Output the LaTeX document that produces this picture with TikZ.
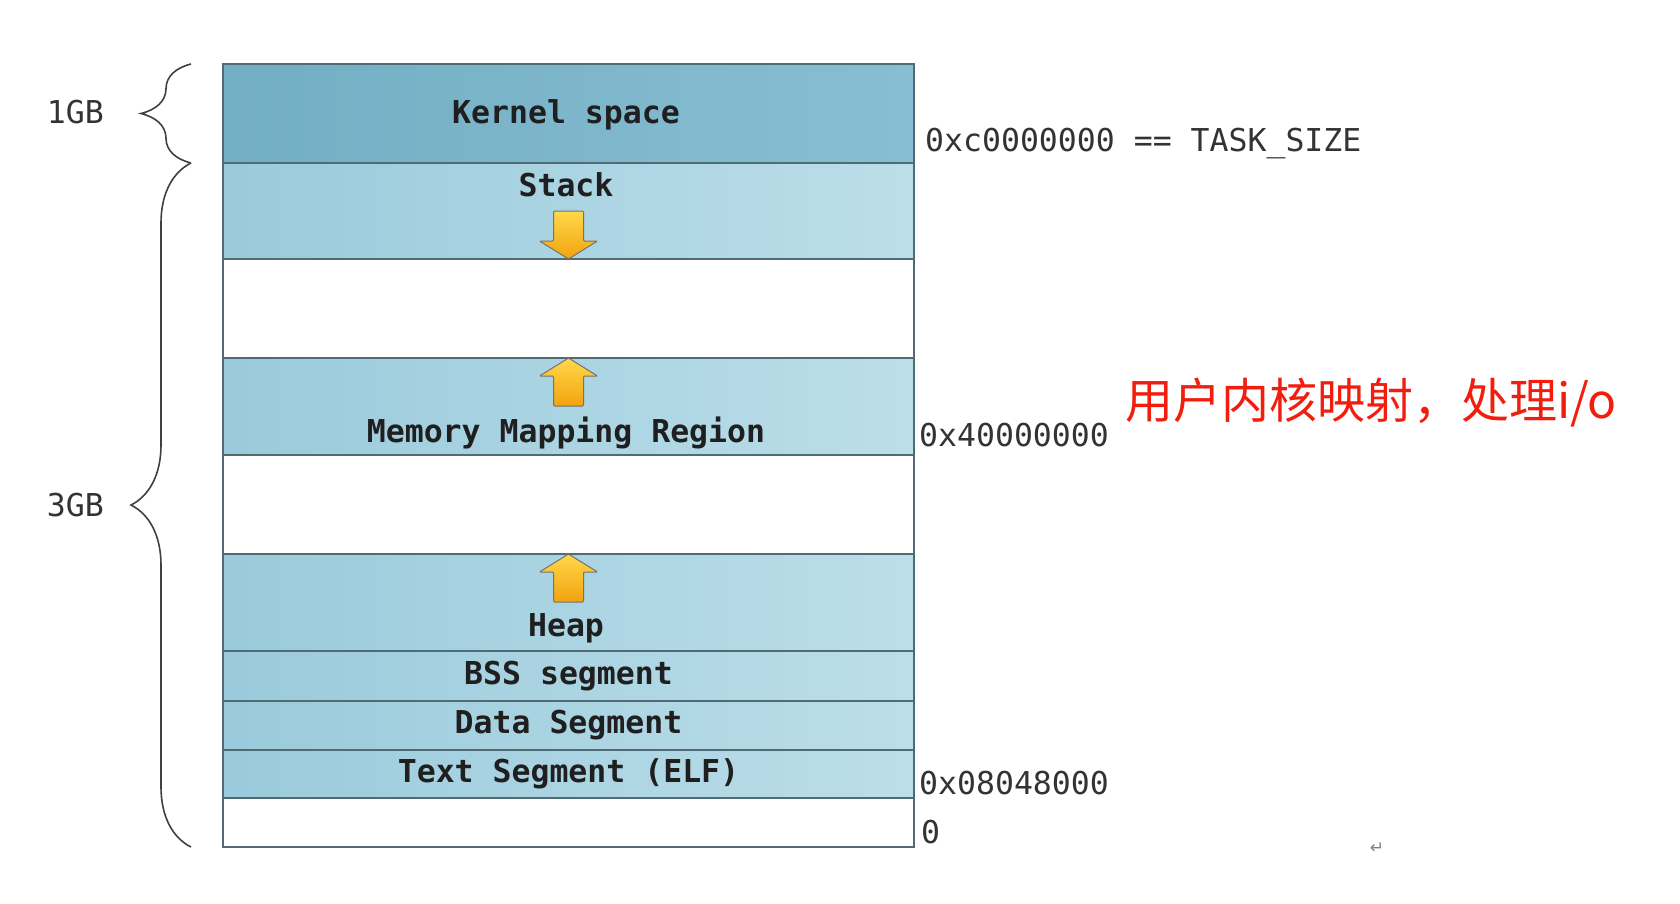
\documentclass[tikz,border=0pt]{standalone}
\usepackage{fontspec}
\setmonofont{DejaVu Sans Mono}
\newfontfamily\cjk{Noto Sans CJK SC}
\newfontfamily\symfont{DejaVu Sans}
\usetikzlibrary{positioning,decorations.pathreplacing}
\definecolor{segline}{HTML}{4F6B73}
\definecolor{kernleft}{HTML}{72AEC4}
\definecolor{kernright}{HTML}{88BED1}
\definecolor{segleft}{HTML}{9ACADB}
\definecolor{segright}{HTML}{BCDEE9}
\definecolor{arrtop}{HTML}{FFD84A}
\definecolor{arrbot}{HTML}{F2A30F}
\definecolor{addrgray}{HTML}{333333}
\definecolor{notered}{HTML}{F21D0D}
\begin{document}
\begin{tikzpicture}[x=1pt, y=-1pt,
  seg/.style={draw=segline, line width=2pt, minimum width=691pt, inner sep=0pt, outer sep=0pt, left color=segleft, right color=segright},
  kseg/.style={seg, left color=kernleft, right color=kernright},
  hole/.style={draw=segline, line width=2pt, minimum width=691pt, inner sep=0pt, outer sep=0pt, fill=white},
  segtext/.style={font=\ttfamily\bfseries\fontsize{31.5}{32}\selectfont, text=black!88},
  addr/.style={font=\ttfamily\fontsize{31.5}{32}\selectfont, text=addrgray, inner sep=0pt, anchor=west},
  growth/.style={draw=black!55, line width=1pt, top color=arrtop, bottom color=arrbot, rounded corners=1pt},
  brc/.style={decorate, decoration={brace, amplitude=#1}, line width=1.6pt, draw=black!75},
  growup/.pic={\path[growth] (0,0) -- (29,18) -- (15,18) -- (15,48) -- (-15,48) -- (-15,18) -- (-29,18) -- cycle;},
  growdown/.pic={\path[growth] (0,0) -- (29,-18) -- (15,-18) -- (15,-48) -- (-15,-48) -- (-15,-18) -- (-29,-18) -- cycle;}
]
\useasboundingbox (0,0) rectangle (1680,904);

% segments, top to bottom
\node[kseg, minimum height=99pt] (kernel) at (568.5,113.5) {};
\node[seg, minimum height=96pt, below=0pt of kernel] (stack) {};
\node[hole, minimum height=99pt, below=0pt of stack] (gapa) {};
\node[seg, minimum height=97pt, below=0pt of gapa] (mmap) {};
\node[hole, minimum height=99pt, below=0pt of mmap] (gapb) {};
\node[seg, minimum height=97pt, below=0pt of gapb] (heap) {};
\node[seg, minimum height=50pt, below=0pt of heap] (bss) {};
\node[seg, minimum height=49pt, below=0pt of bss] (data) {};
\node[seg, minimum height=48pt, below=0pt of data] (text) {};
\node[hole, minimum height=49pt, below=0pt of text] (low) {};

% labels
\node[segtext] (kernlbl) at (566,115) {Kernel space};
\node[segtext] (stacklbl) at (566,185) {Stack};
\node[segtext] (mmaplbl) at (566,433) {Memory Mapping Region};
\node[segtext] (heaplbl) at (566,628) {Heap};
\node[segtext] (bsslbl) at (bss) {BSS segment};
\node[segtext] (datalbl) at (data) {Data Segment};
\node[segtext] (textlbl) at (text) {Text Segment (ELF)};

% growth arrows
\pic at (stack.south) {growdown};
\pic at (mmap.north) {growup};
\pic at (heap.north) {growup};

% addresses
\node[addr] (tasksize) at (925,144) {0xc0000000 == TASK\_SIZE};
\node[addr] (mmapaddr) at (919,435) {0x40000000};
\node[addr] (textaddr) at (919,783) {0x08048000};
\node[addr] (zero) at (921,832) {0};
\node[font=\cjk\fontsize{48}{50}\selectfont, text=notered, inner sep=0pt, anchor=west] (note) at (1125,403) {用户内核映射，处理i/o};
\node[font=\symfont\fontsize{17}{17}\selectfont, text=black!50] (ret) at (1377,848) {↵};

% sizes
\draw[brc=50pt] ([xshift=-32pt]kernel.south west) -- ([xshift=-32pt]kernel.north west);
\draw[brc=60pt] ([xshift=-32pt]low.south west) -- ([xshift=-32pt]stack.north west);
\node[addr, anchor=east] (onegb) at (104,112) {1GB};
\node[addr, anchor=east] (threegb) at (104,505) {3GB};
\end{tikzpicture}
\end{document}
